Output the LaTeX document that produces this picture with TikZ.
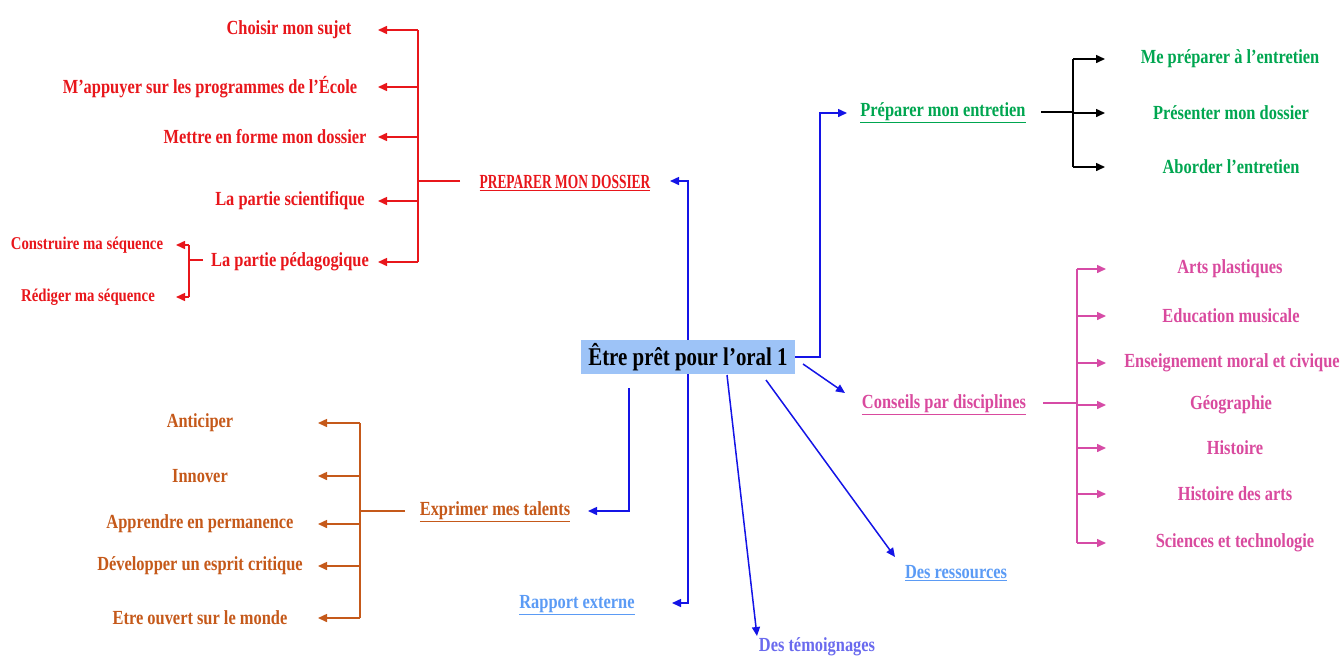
\documentclass[tikz,border=0pt]{standalone}
\usepackage{graphicx}
\usepackage{fontspec}
\setmainfont{Liberation Serif}[FakeStretch=0.82]
\usetikzlibrary{arrows.meta}
\definecolor{cred}{HTML}{E8161B}
\definecolor{corange}{HTML}{C5591A}
\definecolor{cgreen}{HTML}{00A650}
\definecolor{cpink}{HTML}{D94A9E}
\definecolor{cpinkline}{HTML}{D64BA6}
\definecolor{cblue}{HTML}{1414E6}
\definecolor{clink}{HTML}{5B9BF5}
\definecolor{cviolet}{HTML}{6A6AEE}
\definecolor{cbox}{HTML}{9DC3F7}
\tikzset{
  lbl/.style={font=\fontsize{20}{22}\selectfont\bfseries, inner sep=1pt, yshift=-2pt},
  small/.style={font=\fontsize{18}{20}\selectfont\bfseries, inner sep=1pt, yshift=-2pt},
  arr/.style={-{Triangle[length=9pt,width=8pt]}, line width=1.5pt},
  ln/.style={line width=1.5pt},
}
\begin{document}
\begin{tikzpicture}[x=1pt,y=-1pt]
\useasboundingbox (0,0) rectangle (1343,659);
% central node
\node[fill=cbox, minimum width=214pt, minimum height=34pt, inner sep=0pt,
      font=\fontsize{25.5}{28}\selectfont\bfseries] (root) at (688,357) {Être prêt pour l’oral 1};

% ---------- red group ----------
\begin{scope}[cred]
\node[lbl, text=cred] (r1) at (289,28) {Choisir mon sujet};
\node[lbl, text=cred] (r2) at (210,85) {M’appuyer sur les programmes de l’École};
\node[lbl, text=cred] (r3) at (265,135) {Mettre en forme mon dossier};
\node[lbl, text=cred] (r4) at (290,199) {La partie scientifique};
\node[lbl, text=cred] (r5) at (290,260) {La partie pédagogique};
\node[small, text=cred] (s1) at (87,243) {Construire ma séquence};
\node[small, text=cred] (s2) at (88,295) {Rédiger ma séquence};
\node[lbl, text=cred] (dossier) at (565,181) {\scalebox{0.82}[1]{\underline{PREPARER MON DOSSIER}}};
\coordinate (rb) at (418,181);
\coordinate (rtrunk) at (460,181);
\coordinate (rtip) at (378,0);
\coordinate (sb) at (189,260);
\coordinate (strunk) at (203,260);
\coordinate (stip) at (176,0);
\draw[ln] (rb |- r1) -- (rb |- r5);
\draw[ln] (rtrunk) -- (rb);
\foreach \n in {r1,r2,r3,r4,r5}
  \draw[arr] (rb |- \n) -- (rtip |- \n);
\draw[ln] (strunk) -- (sb);
\draw[ln] (sb |- s1) -- (sb |- s2);
\foreach \n in {s1,s2}
  \draw[arr] (sb |- \n) -- (stip |- \n);
\end{scope}

% ---------- orange group ----------
\begin{scope}[corange]
\node[lbl, text=corange] (o1) at (200,421) {Anticiper};
\node[lbl, text=corange] (o2) at (200,474) {Innover};
\node[lbl, text=corange] (o3) at (200,522) {Apprendre en permanence};
\node[lbl, text=corange] (o4) at (200,564) {Développer un esprit critique};
\node[lbl, text=corange] (o5) at (200,616) {Etre ouvert sur le monde};
\node[lbl, text=corange] (talents) at (495,510) {\underline{Exprimer mes talents}};
\coordinate (ob) at (360,511);
\coordinate (otrunk) at (405,511);
\coordinate (otip) at (318,0);
\draw[ln] (ob |- o1) -- (ob |- o5);
\draw[ln] (otrunk) -- (ob);
\foreach \n in {o1,o2,o3,o4,o5}
  \draw[arr] (ob |- \n) -- (otip |- \n);
\end{scope}

% ---------- green group ----------
\node[lbl, text=cgreen] (entretien) at (943,111) {\underline{Préparer mon entretien}};
\node[lbl, text=cgreen] (g1) at (1230,57) {Me préparer à l’entretien};
\node[lbl, text=cgreen] (g2) at (1231,111) {Présenter mon dossier};
\node[lbl, text=cgreen] (g3) at (1231,165) {Aborder l’entretien};
\coordinate (gb) at (1073,112);
\coordinate (gtrunk) at (1041,112);
\coordinate (gtip) at (1105,0);
\draw[ln] (gtrunk) -- (gb);
\draw[ln] (gb |- g1) -- (gb |- g3);
\foreach \n in {g1,g2,g3}
  \draw[arr] (gb |- \n) -- (gtip |- \n);

% ---------- pink group ----------
\node[lbl, text=cpink] (conseils) at (944,403) {\underline{Conseils par disciplines}};
\node[lbl, text=cpink] (p1) at (1230,267) {Arts plastiques};
\node[lbl, text=cpink] (p2) at (1231,314) {Education musicale};
\node[lbl, text=cpink] (p3) at (1232,361) {Enseignement moral et civique};
\node[lbl, text=cpink] (p4) at (1231,403) {Géographie};
\node[lbl, text=cpink] (p5) at (1235,446) {Histoire};
\node[lbl, text=cpink] (p6) at (1235,492) {Histoire des arts};
\node[lbl, text=cpink] (p7) at (1235,541) {Sciences et technologie};
\coordinate (pb) at (1077,403);
\coordinate (ptrunk) at (1043,403);
\coordinate (ptip) at (1106,0);
\draw[ln, cpinkline] (ptrunk) -- (pb);
\draw[ln, cpinkline] (pb |- p1) -- (pb |- p7);
\foreach \n in {p1,p2,p3,p4,p5,p6,p7}
  \draw[arr, cpinkline] (pb |- \n) -- (ptip |- \n);

% ---------- other leaves ----------
\node[lbl, text=clink] (rapport) at (577,603) {\underline{Rapport externe}};
\node[lbl, text=clink] (ressources) at (956,571) {\underline{Des ressources}};
\node[lbl, text=cviolet] (temoignages) at (817,645) {Des témoignages};

% ---------- blue connectors from root ----------
\coordinate (tipdossier) at (670,181);
\coordinate (tiprapport) at (672,603);
\coordinate (tiptalents) at (588,511);
\coordinate (tipentretien) at (847,113);
\begin{scope}[cblue]
\draw[arr] (root.center) -- (root.center |- tipdossier) -- (tipdossier);
\draw[arr] (root.center) -- (root.center |- tiprapport) -- (tiprapport);
\draw[arr] (629,388) -- (629,511) -- (tiptalents);
\draw[arr] (root.east) -- (820,357) -- (820,113) -- (tipentretien);
\draw[arr] (803,364) -- (845,393);
\draw[arr] (766,380) -- (895,557);
\draw[arr] (727,375) -- (757,636);
\end{scope}
\node[fill=cbox, minimum width=214pt, minimum height=34pt, inner sep=0pt,
      font=\fontsize{25.5}{28}\selectfont\bfseries] at (root) {Être prêt pour l’oral 1};
\end{tikzpicture}
\end{document}
